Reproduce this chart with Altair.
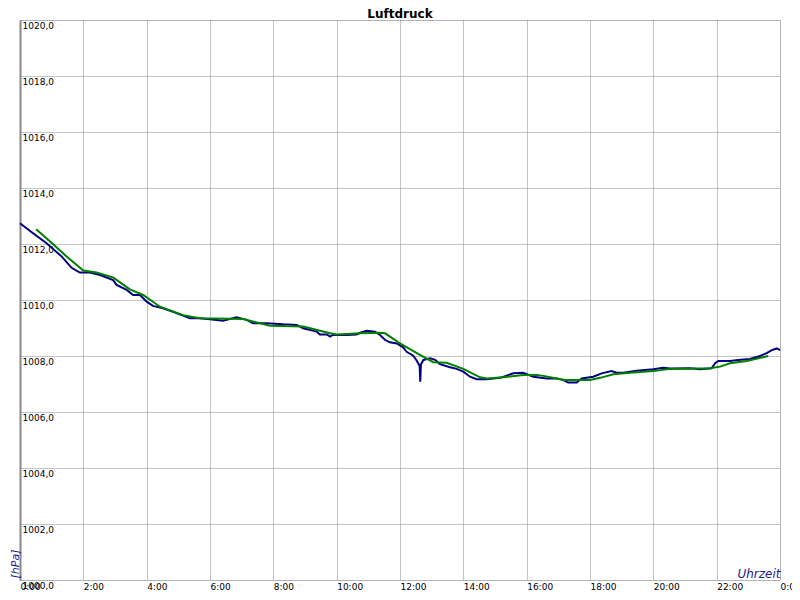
import altair as alt
import pandas as pd

chart_title = "Luftdruck"

# Luftdruck (raw, navy) – hours since midnight / hPa
blue_hours = [0.00, 0.37, 0.84, 1.32, 1.63, 1.89, 2.21, 2.53, 2.94, 3.05, 3.37, 3.57, 3.79,
              4.00, 4.20, 4.52, 4.83, 5.15, 5.37, 5.68, 6.00, 6.41, 6.84, 7.16, 7.36, 7.79,
              8.31, 8.74, 8.94, 9.37, 9.47, 9.69, 9.79, 9.88, 10.32, 10.63, 10.74, 10.95,
              11.21, 11.37, 11.53, 11.68, 11.90, 12.10, 12.21, 12.42, 12.53, 12.62, 12.64,
              12.66, 12.74, 12.95, 13.11, 13.26, 13.58, 13.79, 14.00, 14.21, 14.42, 14.74,
              15.16, 15.58, 15.89, 16.21, 16.63, 16.95, 17.16, 17.31, 17.58, 17.74, 18.10,
              18.37, 18.68, 18.84, 19.05, 19.47, 20.00, 20.31, 20.53, 21.16, 21.47, 21.84,
              21.95, 22.05, 22.42, 22.68, 23.05, 23.37, 23.58, 23.74, 23.90, 24.00]
blue_hpa = [1012.74, 1012.42, 1012.03, 1011.55, 1011.15, 1010.98, 1010.98, 1010.89, 1010.71,
            1010.54, 1010.36, 1010.18, 1010.18, 1009.94, 1009.79, 1009.70, 1009.58, 1009.44,
            1009.35, 1009.35, 1009.31, 1009.26, 1009.38, 1009.29, 1009.17, 1009.17, 1009.13,
            1009.11, 1008.99, 1008.87, 1008.77, 1008.77, 1008.69, 1008.75, 1008.75, 1008.77,
            1008.83, 1008.90, 1008.87, 1008.75, 1008.57, 1008.49, 1008.45, 1008.31, 1008.15,
            1008.01, 1007.83, 1007.64, 1007.08, 1007.70, 1007.86, 1007.92, 1007.86, 1007.71,
            1007.60, 1007.54, 1007.44, 1007.26, 1007.17, 1007.17, 1007.22, 1007.38, 1007.40,
            1007.26, 1007.20, 1007.20, 1007.14, 1007.05, 1007.05, 1007.20, 1007.26, 1007.38,
            1007.46, 1007.40, 1007.40, 1007.47, 1007.53, 1007.58, 1007.55, 1007.56, 1007.53,
            1007.56, 1007.74, 1007.82, 1007.82, 1007.86, 1007.89, 1008.00, 1008.10, 1008.21,
            1008.27, 1008.21]

# Gleitender Mittelwert (green)
green_hours = [0.51, 1.05, 1.47, 2.00, 2.42, 2.95, 3.47, 3.89, 4.42, 5.15, 5.68, 7.04, 7.89,
               8.95, 9.79, 10.00, 10.74, 11.37, 11.53, 12.00, 12.63, 13.05, 13.47, 14.00,
               14.53, 14.74, 15.26, 15.89, 16.32, 16.53, 16.95, 17.21, 18.00, 18.32, 18.74,
               19.26, 20.00, 20.53, 21.79, 22.11, 22.42, 22.95, 23.63]
green_hpa = [1012.53, 1011.99, 1011.55, 1011.05, 1010.98, 1010.80, 1010.38, 1010.18, 1009.76,
             1009.46, 1009.35, 1009.32, 1009.08, 1009.05, 1008.81, 1008.77, 1008.81, 1008.83,
             1008.81, 1008.45, 1008.04, 1007.78, 1007.76, 1007.54, 1007.24, 1007.20, 1007.24,
             1007.32, 1007.32, 1007.29, 1007.20, 1007.14, 1007.14, 1007.22, 1007.35, 1007.40,
             1007.46, 1007.54, 1007.56, 1007.62, 1007.74, 1007.82, 1008.00]

x_ticks = list(range(0, 25, 2))
y_ticks = list(range(1000, 1021, 2))

blue_df = pd.DataFrame({"h": blue_hours, "p": blue_hpa})
green_df = pd.DataFrame({"h": green_hours, "p": green_hpa})
title_df = pd.DataFrame({"t": [chart_title]})

FONT = "DejaVu Sans"
TITLE_COLOR = "#1c1c8c"
GRID = "#888888"

x_enc = alt.X(
    "h:Q",
    scale=alt.Scale(domain=[0, 24], nice=False, zero=False),
    axis=alt.Axis(
        values=x_ticks,
        labelExpr="(datum.value % 24) + ':00'",
        title="Uhrzeit",
        titleX=760, titleY=-3,
        titleAlign="right", titleBaseline="alphabetic", titleAngle=0,
        titleFontStyle="italic", titleFontWeight="normal", titleFontSize=12,
        titleColor=TITLE_COLOR, titleFont=FONT,
        labelAlign="left", labelBaseline="top", labelPadding=2,
        labelFlush=False, labelOverlap=False, labelFontSize=9, labelFont=FONT,
        labelColor="#000000",
        ticks=False, domain=False,
        grid=True, gridDash=[1, 1], gridColor=GRID, gridOpacity=1, gridWidth=1,
    ),
)
y_enc = alt.Y(
    "p:Q",
    scale=alt.Scale(domain=[1000, 1020], nice=False, zero=False),
    axis=alt.Axis(
        values=y_ticks,
        labelExpr="replace(format(datum.value, '.1f'), '.', ',')",
        title="[hPa]",
        titleX=-2, titleY=558, titleAngle=-90,
        titleAlign="left", titleBaseline="alphabetic",
        titleFontStyle="italic", titleFontWeight="normal", titleFontSize=11,
        titleColor=TITLE_COLOR, titleFont=FONT,
        labelAlign="left", labelBaseline="top", labelPadding=-2, labelOffset=1,
        labelFlush=False, labelOverlap=False, labelFontSize=9, labelFont=FONT,
        labelColor="#000000",
        ticks=False, domain=True, domainColor="#888888", domainWidth=2,
        grid=True, gridDash=[1, 1], gridColor=GRID, gridOpacity=1, gridWidth=1,
    ),
)

blue = alt.Chart(blue_df).mark_line(color="#000080", strokeWidth=2).encode(x=x_enc, y=y_enc)
green = alt.Chart(green_df).mark_line(color="#008000", strokeWidth=2).encode(x=x_enc, y=y_enc)
title_mark = alt.Chart(title_df).mark_text(
    font=FONT, fontSize=12, fontWeight="bold", color="#000000",
    align="center", baseline="alphabetic",
).encode(text="t:N", x=alt.value(380), y=alt.value(-2))

chart = alt.layer(blue, green, title_mark).properties(
    width=760,
    height=560,
    autosize=alt.AutoSizeParams(type="none"),
    padding={"left": 12, "top": 12, "right": 12, "bottom": 12},
).configure_view(stroke=None).configure(background="#ffffff")

chart.save("out.html", embed_options={"renderer": "svg", "actions": False})
